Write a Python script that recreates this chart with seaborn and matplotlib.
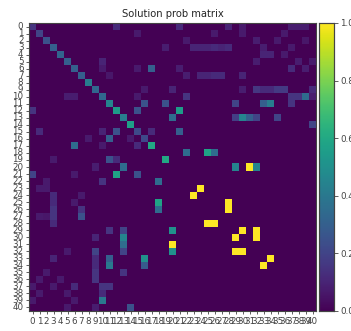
import numpy as np
import pandas as pd
import matplotlib
matplotlib.use("Agg")
import matplotlib.pyplot as plt
import seaborn as sns

n = 41
labels = [str(i) for i in range(n)]

# probability on the main diagonal (rows 0..20, rest zero)
diag_vals = [0.15, 0.2, 0.25, 0.3, 0.32, 0.3, 0.3, 0.3, 0.42, 0.33, 0.33,
             0.45, 0.55, 0.42, 0.57, 0.22, 0.22, 0.6, 0.0, 0.6, 0.0]

# off-diagonal entries: row index, column index, probability
off_rows = [0, 0, 0, 0, 0, 0, 0,
            1, 1, 1, 1,
            2, 2, 2, 2,
            3, 3, 3, 3, 3, 3, 3, 3, 3,
            4, 4, 4,
            5, 5, 5, 5,
            6, 6, 6, 6, 6, 6,
            7, 7, 7, 7, 7, 7, 7,
            9, 9, 9, 9, 9, 9, 9, 9, 9,
            10, 10, 10, 10, 10, 10, 10, 10,
            11, 11, 11, 11, 11, 11,
            12, 12, 12,
            13, 13, 13, 13, 13, 13,
            14,
            15, 15, 15, 15, 15,
            16, 16, 16,
            17, 17, 17,
            18, 18, 18,
            19, 19, 19,
            20, 20, 20, 20, 20,
            21, 21, 21, 21,
            22, 22, 22,
            23, 23, 23,
            24, 24, 24,
            25, 25, 25, 25,
            26, 26, 26, 26,
            27, 27, 27, 27,
            28, 28, 28,
            29, 29, 29, 29, 29,
            30, 30, 30, 30,
            31, 31,
            32, 32, 32, 32, 32, 32,
            33, 33, 33, 33, 33,
            34, 34, 34, 34,
            35, 35, 35,
            36, 36, 36,
            37, 37, 37, 37, 37,
            38, 38, 38,
            39, 39, 39,
            40, 40, 40]
off_cols = [12, 21, 28, 30, 37, 38, 39,
            15, 26, 30, 36,
            22, 32, 35, 39,
            19, 23, 24, 25, 26, 27, 28, 33, 37,
            33, 34, 36,
            10, 32, 38, 40,
            15, 17, 21, 10, 37, 39,
            22, 24, 25, 26, 27, 30, 11,
            16, 20, 30, 32, 33, 34, 35, 36, 40,
            5, 6, 15, 22, 37, 38, 39, 40,
            16, 19, 29, 33, 34, 37,
            0, 15, 21,
            20, 29, 30, 31, 32, 35,
            40,
            1, 10, 12, 17, 21,
            11, 8, 14,
            6, 15, 10,
            22, 25, 26,
            11, 12, 3,
            13, 29, 31, 32, 9,
            0, 6, 12, 15,
            2, 10, 18,
            1, 2, 24,
            3, 7, 23,
            3, 6, 18, 28,
            3, 7, 18, 28,
            1, 3, 7, 2,
            3, 25, 26,
            11, 13, 20, 30, 32,
            9, 13, 29, 32,
            13, 20,
            5, 9, 13, 20, 29, 30,
            3, 9, 11, 16, 34,
            9, 11, 16, 33,
            2, 9, 13,
            1, 4, 9,
            0, 6, 10, 11, 3,
            1, 5, 10,
            0, 6, 10,
            5, 9, 14]
off_vals = [0.12, 0.12, 0.1, 0.07, 0.08, 0.08, 0.08,
            0.07, 0.07, 0.07, 0.07,
            0.07, 0.08, 0.07, 0.06,
            0.08, 0.1, 0.1, 0.1, 0.12, 0.1, 0.12, 0.08, 0.07,
            0.1, 0.1, 0.07,
            0.1, 0.08, 0.08, 0.07,
            0.07, 0.3, 0.08, 0.07, 0.12, 0.08,
            0.08, 0.1, 0.1, 0.12, 0.12, 0.1, 0.06,
            0.07, 0.1, 0.08, 0.16, 0.12, 0.12, 0.17, 0.17, 0.12,
            0.08, 0.08, 0.07, 0.15, 0.15, 0.15, 0.35, 0.08,
            0.25, 0.25, 0.2, 0.3, 0.42, 0.15,
            0.15, 0.25, 0.55,
            0.35, 0.18, 0.45, 0.3, 0.2, 0.2,
            0.2,
            0.12, 0.1, 0.25, 0.12, 0.3,
            0.3, 0.07, 0.07,
            0.35, 0.12, 0.07,
            0.35, 0.58, 0.35,
            0.25, 0.12, 0.07,
            0.35, 0.45, 1.0, 0.45, 0.08,
            0.2, 0.07, 0.58, 0.25,
            0.07, 0.15, 0.35,
            0.07, 0.07, 1.0,
            0.12, 0.07, 1.0,
            0.12, 0.07, 0.58, 1.0,
            0.15, 0.15, 0.35, 1.0,
            0.07, 0.15, 0.25, 0.06,
            0.12, 1.0, 1.0,
            0.15, 0.2, 0.5, 1.0, 1.0,
            0.1, 0.45, 1.0, 1.0,
            0.35, 1.0,
            0.07, 0.2, 0.2, 0.5, 1.0, 1.0,
            0.1, 0.12, 0.3, 0.5, 1.0,
            0.12, 0.4, 0.28, 1.0,
            0.07, 0.15, 0.15,
            0.07, 0.07, 0.15,
            0.07, 0.12, 0.15, 0.15, 0.07,
            0.07, 0.07, 0.12,
            0.07, 0.07, 0.4,
            0.07, 0.08, 0.25]

prob = np.zeros((n, n))
for i, v in enumerate(diag_vals):
    prob[i, i] = v
for r, c, v in zip(off_rows, off_cols, off_vals):
    prob[r, c] = v
df = pd.DataFrame(prob, index=labels, columns=labels)

sns.set_style("white")
fig = plt.figure(figsize=(3.51, 3.31), dpi=100)
ax = fig.add_axes([29 / 351, 1 - 311 / 331, 287 / 351, 288 / 331])
cax = fig.add_axes([319 / 351, 1 - 311 / 331, 15 / 351, 288 / 331])

sns.heatmap(df, ax=ax, cbar_ax=cax, cmap="viridis", vmin=0, vmax=1,
            xticklabels=True, yticklabels=True)

ax.set_title("Solution prob matrix", fontsize=7.2, color="#262626", pad=4)
ax.tick_params(axis="both", length=2.5, width=0.6, pad=1.5, labelsize=6.3,
               colors="#444444", bottom=True, left=True)
plt.setp(ax.get_xticklabels(), rotation=0)
plt.setp(ax.get_yticklabels(), rotation=0)
for s in ax.spines.values():
    s.set_visible(True)
    s.set_color("#444444")
    s.set_linewidth(0.8)

cax.set_yticks([0, 0.2, 0.4, 0.6, 0.8, 1.0])
cax.set_yticklabels(["0.0", "0.2", "0.4", "0.6", "0.8", "1.0"])
cax.tick_params(axis="y", length=3, width=0.6, pad=1.5, labelsize=6.3,
                colors="#444444", right=True)
for s in cax.spines.values():
    s.set_visible(True)
    s.set_color("#444444")
    s.set_linewidth(0.8)

fig.savefig("out.png", dpi=100)
